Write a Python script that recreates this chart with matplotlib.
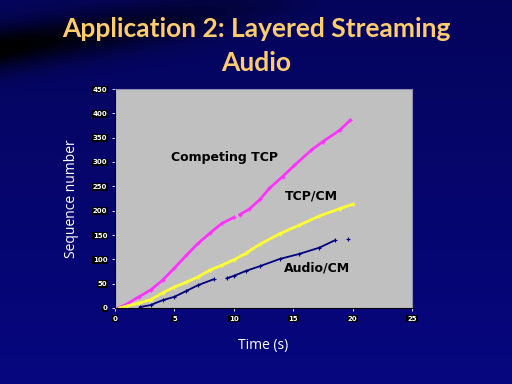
import matplotlib
matplotlib.use('Agg')
import matplotlib.pyplot as plt
import numpy as np

# Competing TCP (magenta)
tcp_t = [0.3, 1, 2, 3, 4, 5, 6, 7, 8, 9, 10, 10.2, 10.5, 11.3, 12.2, 13, 14.1, 15.1, 16.5, 17.5, 18.9, 19.8]
tcp_y = [0, 8, 23, 37, 57, 82, 108, 133, 154, 174, 186, np.nan, 192, 203, 223, 246, 270, 293, 324, 342, 365, 386]

# TCP/CM (yellow)
tcpcm_t = [0.4, 1, 2, 3, 4, 5, 6, 7, 8, 9, 10, 11, 12.2, 13.9, 15.5, 17.2, 18.9, 20]
tcpcm_y = [0, 4, 10, 17, 31, 43, 53, 64, 78, 88, 99, 112, 131, 153, 170, 189, 204, 213]

# Audio/CM (navy)
audio_t = [2.1, 3, 4, 5, 6, 7, 8.3, 8.8, 9.4, 10, 11, 12.2, 13.9, 15.5, 17.2, 18.5, 19.0, 19.6]
audio_y = [2, 6, 16, 23, 35, 47, 59, np.nan, 61, 66, 76, 86, 101, 111, 124, 139, np.nan, 141]

xticks = [0, 5, 10, 15, 20, 25]
yticks = [0, 50, 100, 150, 200, 250, 300, 350, 400, 450]

fig = plt.figure(figsize=(5.12, 3.84), dpi=100)

# dark blue slide background with a black swoosh
bg = fig.add_axes([0, 0, 1, 1])
yy, xx = np.mgrid[0:384, 0:512]
base = 0.36 + 0.14 * (yy / 384.0)
swoosh = np.exp(-((yy - 48 + 0.16 * xx) / 22.0) ** 2) * np.clip(1 - xx / 330.0, 0, 1)
level = np.clip(base - 0.4 * swoosh, 0, 1)
img = np.dstack([level * 0.05, level * 0.05, level])
bg.imshow(img, aspect='auto', extent=[0, 1, 0, 1])
bg.axis('off')

ax = fig.add_axes([115 / 512, 1 - 308 / 384, 297 / 512, 219 / 384])
ax.set_facecolor('#c0c0c0')
ax.plot(tcp_t, tcp_y, color='#ff33ff', lw=2, marker='+', ms=3, mew=1)
ax.plot(tcpcm_t, tcpcm_y, color='#ffff33', lw=2, marker='+', ms=3, mew=1)
ax.plot(audio_t, audio_y, color='#000080', lw=1.3, marker='+', ms=3, mew=0.8)

ax.set_xlim(0, 25)
ax.set_ylim(0, 450)
ax.set_xticks(xticks)
ax.set_yticks(yticks)
ax.tick_params(colors='white', labelsize=5, length=2, width=0.6)
for lab in ax.get_xticklabels() + ax.get_yticklabels():
    lab.set_fontweight('bold')
    lab.set_bbox(dict(facecolor='black', edgecolor='none', pad=0.6))
for s in ['top', 'right']:
    ax.spines[s].set_color('#9090b0')
for s in ['left', 'bottom']:
    ax.spines[s].set_color('black')

lab_font = dict(color='black', fontsize=9, fontweight='bold', family='DejaVu Sans')
ax.text(4.7, 303, 'Competing TCP', **lab_font)
ax.text(14.3, 222, 'TCP/CM', **lab_font)
ax.text(14.2, 75, 'Audio/CM', **lab_font)

ax.set_ylabel('Sequence number', color='white', fontsize=10, family='Open Sans', labelpad=10)
ax.set_xlabel('Time (s)', color='white', fontsize=10, family='Open Sans', labelpad=12)

fig.text(0.5, 0.925, 'Application 2: Layered Streaming', ha='center', va='center',
         color='#ffcc70', fontsize=19, fontweight='bold', family='Lato')
fig.text(0.5, 0.835, 'Audio', ha='center', va='center',
         color='#ffcc70', fontsize=19, fontweight='bold', family='Lato')

fig.savefig('out.png', dpi=100)
